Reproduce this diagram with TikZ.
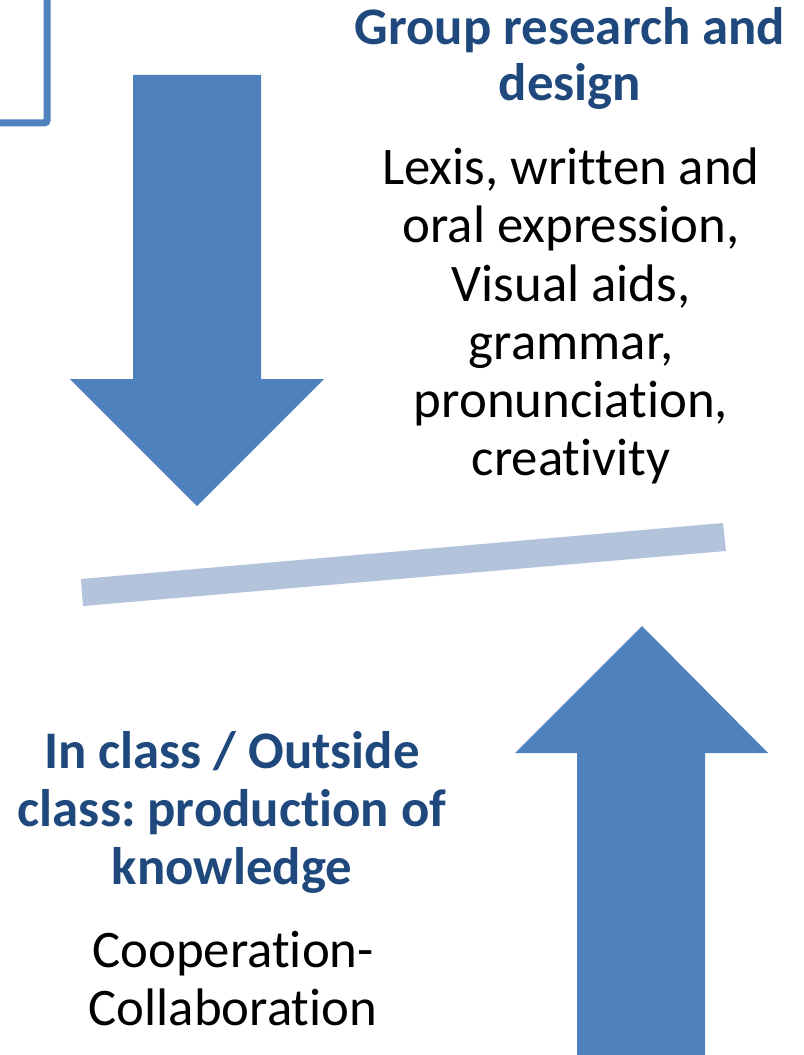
\documentclass[tikz,border=0pt]{standalone}
\usepackage{fontspec}
\setmainfont[Ligatures=NoCommon]{Carlito}
\frenchspacing
\definecolor{arrowblue}{HTML}{4F81BD}
\definecolor{barblue}{HTML}{B3C3DC}
\definecolor{titleblue}{HTML}{1F497D}
\begin{document}
\begin{tikzpicture}[x=0.75pt,y=-0.75pt,
  bigarrow/.style={fill=arrowblue,draw=none},
  txt/.style={anchor=base,inner sep=0pt,font=\fontsize{39.6}{43}\selectfont},
  ttl/.style={txt,text=titleblue,font=\fontsize{39.6}{43}\selectfont\bfseries}]
\useasboundingbox (0,0) rectangle (803,1055);
\clip (0,0) rectangle (803,1055);
\fill[white] (0,0) rectangle (803,1055);
% bracket
\draw[arrowblue,line width=5.25pt,rounded corners=2pt] (47,-10) -- (47,123) -- (-10,123);
% down arrow
\path[bigarrow] (133,75) -- (261,75) -- (261,379) -- (324,379) -- (197,506) -- (70,379) -- (133,379) -- cycle;
% bar
\path[fill=barblue] (81,579) -- (83,606) -- (726,551) -- (723,523) -- cycle;
% up arrow
\path[bigarrow] (642,626) -- (768,753) -- (705,753) -- (705,1070) -- (577,1070) -- (577,753) -- (515,753) -- cycle;
% texts top right
\node[ttl] (t1a) at (570,45) {Group research and};
\node[ttl] (t1b) at (570,101) {design};
\node[txt] (b1a) at (571,185) {Lexis, written and};
\node[txt] (b1b) at (571,243) {oral expression,};
\node[txt] (b1c) at (571,301) {Visual aids,};
\node[txt] (b1d) at (571,359) {grammar,};
\node[txt] (b1e) at (571,417) {pronunciation,};
\node[txt] (b1f) at (571,475) {creativity};
% texts bottom left
\node[ttl] (t2a) at (232,768) {In class / Outside};
\node[ttl] (t2b) at (232,826) {class: production of};
\node[ttl] (t2c) at (232,884) {knowledge};
\node[txt] (b2a) at (233,967) {Cooperation-};
\node[txt] (b2b) at (233,1025) {Collaboration};
\end{tikzpicture}
\end{document}
